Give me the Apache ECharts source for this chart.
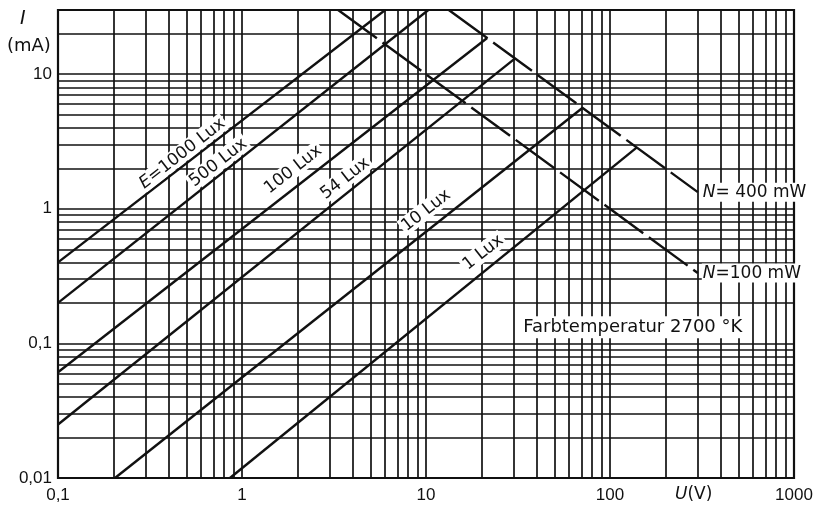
<!DOCTYPE html>
<html><head><meta charset="utf-8">
<script src="https://cdn.jsdelivr.net/npm/echarts@6/dist/echarts.min.js"></script>
<style>html,body{margin:0;padding:0;background:#fff}#c{width:818px;height:507px}</style>
</head><body><div id="c"></div>
<script>
// ---- axis ticks ----
const xTickValues = [0.1, 1, 10, 100, 1000];
const xTickLabels = ['0,1', '1', '10', '100', '1000'];
const yTickValues = [0.01, 0.1, 1, 10];
const yTickLabels = ['0,01', '0,1', '1', '10'];
// minor grid lines (log paper)
const gridU = [0.2,0.3,0.4,0.5,0.6,0.7,0.8,0.9, 2,3,4,5,6,7,8,9, 20,30,40,50,60,70,80,90, 200,300,400,500,600,700,800,900];
const gridI = [0.02,0.03,0.04,0.05,0.06,0.07,0.08,0.09, 0.2,0.3,0.4,0.5,0.6,0.7,0.8,0.9, 2,3,4,5,6,7,8,9, 20];

// ---- characteristic lines: [U (V), I (mA)] ----
const lux1000 = [[0.1, 0.40], [6.0, 30]];
const lux500  = [[0.1, 0.20], [10.3, 30]];
const lux100  = [[0.1, 0.061], [21.5, 18.6]];
const lux54   = [[0.1, 0.025], [30.5, 13.1]];
const lux10   = [[0.204, 0.01], [71, 5.63]];
const lux1    = [[0.86, 0.01], [140, 2.86]];
const n400    = [[13.3, 30], [300, 1.33]];
const n100    = [[3.33, 30], [300, 0.333]];

// ---- labels ----
const luxLabelTexts = ['{i|E}=1000 Lux', '500 Lux', '100 Lux', '54 Lux', '10 Lux', '1 Lux'];
const luxLabelU = [0.472, 0.741, 1.89, 3.63, 10.0, 20.4];
const luxLabelI = [2.59, 2.22, 1.97, 1.69, 0.977, 0.476];
const luxLabelAngle = 38;
const nLabelTexts = ['{i|N}= 400 mW', '{i|N}=100 mW'];
const nLabelAt = [n400[1], n100[1]];
const noteText = 'Farbtemperatur 2700 °K';
const notePos = [133, 0.132];

const FONT = 'DejaVu Sans';
const INK = '#111';

function tickLabel(values, labels) {
  return function (v) {
    for (let i = 0; i < values.length; i++) {
      if (Math.abs(Math.log10(values[i]) - Math.log10(v)) < 1e-6) return labels[i];
    }
    return '';
  };
}

function curve(data, dashed) {
  return {
    type: 'line', data: data, symbol: 'none', silent: true, z: 3,
    lineStyle: { color: INK, width: 2.4, type: dashed ? [48, 7] : 'solid' },
    animation: false
  };
}

const rich = { i: { fontStyle: 'italic', fontFamily: FONT, fontSize: 17, fill: INK } };

const chart = echarts.init(document.getElementById('c'), null, { renderer: 'canvas' });
chart.setOption({
  backgroundColor: '#fff',
  animation: false,
  grid: { left: 58, right: 24, top: 10, bottom: 29, show: true, borderColor: INK, borderWidth: 2.2, backgroundColor: 'transparent' },
  xAxis: {
    type: 'log', logBase: 10, min: 0.1, max: 1000,
    axisLine: { show: false }, axisTick: { show: false },
    splitLine: { show: true, lineStyle: { color: INK, width: 1.7 } },
    axisLabel: { formatter: tickLabel(xTickValues, xTickLabels), color: INK, fontFamily: 'Liberation Sans', fontSize: 17, margin: 9 }
  },
  yAxis: {
    type: 'log', logBase: 10, min: 0.01, max: 30,
    axisLine: { show: false }, axisTick: { show: false },
    splitLine: { show: true, lineStyle: { color: INK, width: 1.7 } },
    axisLabel: { formatter: tickLabel(yTickValues, yTickLabels), color: INK, fontFamily: 'Liberation Sans', fontSize: 17, margin: 6 }
  },
  series: [
    {
      type: 'line', data: [[0.1, 0.01]], symbol: 'none', silent: true, z: 1,
      lineStyle: { opacity: 0 },
      markLine: {
        z: 1, silent: true, symbol: ['none', 'none'], label: { show: false }, animation: false,
        lineStyle: { color: INK, width: 1.7, type: 'solid' },
        emphasis: { disabled: true },
        data: gridU.map(v => ({ xAxis: v })).concat(gridI.map(v => ({ yAxis: v })))
      }
    },
    curve(lux1000), curve(lux500), curve(lux100), curve(lux54), curve(lux10), curve(lux1),
    curve(n400, true), curve(n100, true)
  ]
});

// text annotations placed through the chart's own scales
const g = [
  { type: 'text', left: 20, top: 10, z: 100, style: { text: 'I', font: 'italic 19px "DejaVu Sans"', fill: INK } },
  { type: 'text', left: 7, top: 37, z: 100, style: { text: '(mA)', font: '18px "DejaVu Sans"', fill: INK } },
  { type: 'text', left: 675, top: 486, z: 100, style: { text: '{i|U}(V)', font: '17px "DejaVu Sans"', fill: INK, rich: rich } }
];
luxLabelTexts.forEach((t, i) => {
  const p = chart.convertToPixel({ gridIndex: 0 }, [luxLabelU[i], luxLabelI[i]]);
  g.push({
    type: 'text', x: p[0], y: p[1], rotation: luxLabelAngle * Math.PI / 180, z: 100,
    style: { text: t, font: '17px "DejaVu Sans"', fill: INK, align: 'center', verticalAlign: 'middle',
      backgroundColor: '#fff', padding: [1, 2, 0, 2], rich: rich }
  });
});
nLabelTexts.forEach((t, i) => {
  const p = chart.convertToPixel({ gridIndex: 0 }, nLabelAt[i]);
  g.push({
    type: 'text', x: p[0] + 4, y: p[1], z: 100,
    style: { text: t, font: '17px "DejaVu Sans"', fill: INK, align: 'left', verticalAlign: 'middle',
      backgroundColor: '#fff', padding: [1, 1], rich: rich }
  });
});
{
  const p = chart.convertToPixel({ gridIndex: 0 }, notePos);
  g.push({
    type: 'text', x: p[0], y: p[1], z: 100,
    style: { text: noteText, font: '18px "DejaVu Sans"', fill: INK, align: 'center', verticalAlign: 'middle',
      backgroundColor: '#fff', padding: [2, 4] }
  });
}
chart.setOption({ graphic: g });
</script>
</body></html>
